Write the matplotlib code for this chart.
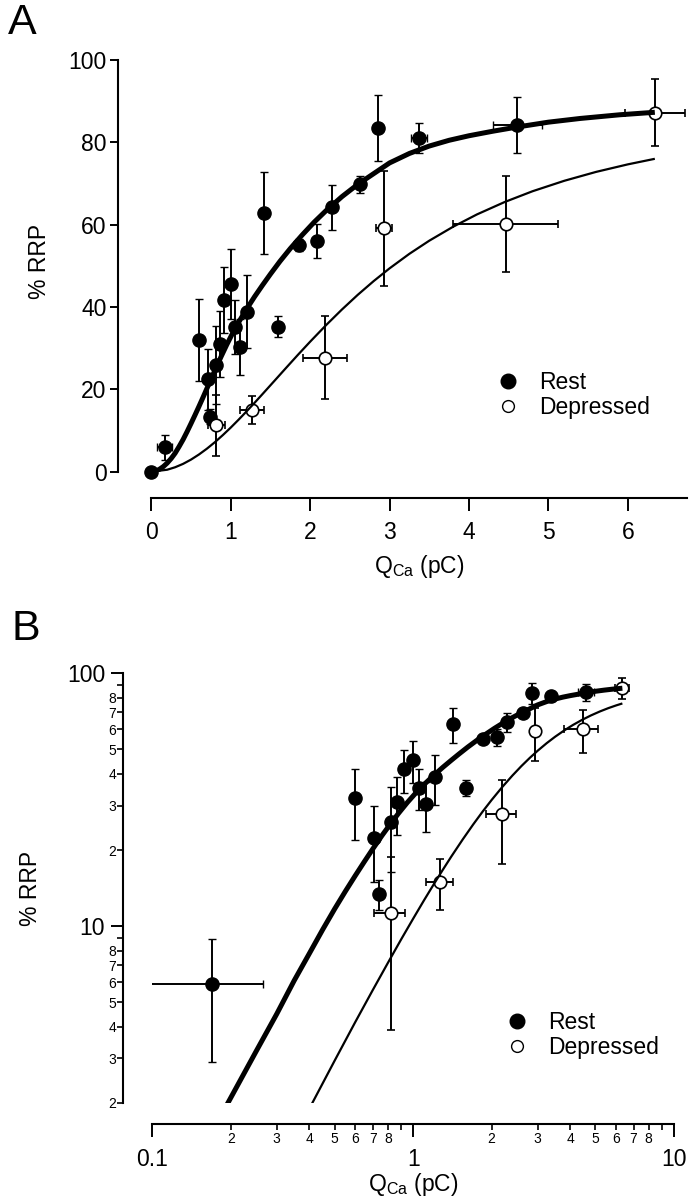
import numpy as np
import matplotlib
matplotlib.use("Agg")
import matplotlib.pyplot as plt
from matplotlib.lines import Line2D
from matplotlib.ticker import FixedLocator, FuncFormatter

plt.rcParams['font.family'] = ['Liberation Sans', 'DejaVu Sans']
plt.rcParams['mathtext.fontset'] = 'custom'
plt.rcParams['mathtext.rm'] = 'Liberation Sans'

# ---------------- data ----------------
rest_q = [0, 0.17, 0.60, 0.71, 0.74, 0.82, 0.87, 0.92, 1.00, 1.05, 1.12,
          1.21, 1.42, 1.59, 1.86, 2.09, 2.28, 2.63, 2.86, 3.37, 4.61]
rest_rrp = [0, 5.9, 32.0, 22.4, 13.4, 25.9, 31.0, 41.7, 45.5, 35.2, 30.4,
            38.9, 62.9, 35.2, 55.1, 56.0, 64.2, 69.8, 83.4, 81.0, 84.2]
rest_rrp_err = [0, 3.0, 10.0, 7.5, 1.8, 9.5, 8.0, 8.0, 8.5, 6.5, 6.8,
                8.8, 10.0, 2.5, 1.5, 4.2, 5.5, 2.0, 8.0, 3.6, 6.8]
rest_q_err = [0, 0.095, 0, 0, 0, 0, 0, 0, 0, 0, 0,
              0, 0, 0, 0, 0, 0, 0.05, 0, 0.1, 0.31]

dep_q = [0.82, 1.27, 2.19, 2.93, 4.46, 6.34]
dep_rrp = [11.3, 15.0, 27.7, 59.1, 60.2, 87.2]
dep_rrp_err = [7.4, 3.4, 10.0, 14.0, 11.7, 8.2]
dep_q_err = [0.11, 0.15, 0.28, 0.10, 0.66, 0.38]

# fitted curves
rest_fit_q = [0, 0.05, 0.1, 0.15, 0.2, 0.25, 0.3, 0.35, 0.4, 0.45, 0.5, 0.55,
              0.6, 0.65, 0.7, 0.76, 0.82, 0.88, 0.95, 1.02, 1.1, 1.2, 1.3,
              1.4, 1.5, 1.62, 1.75, 1.9, 2.05, 2.2, 2.4, 2.6, 2.8, 3.0, 3.25,
              3.5, 3.75, 4.0, 4.3, 4.6, 5.0, 5.4, 5.9, 6.34]
rest_fit_rrp = [0, 0.15, 0.56, 1.22, 2.1, 3.2, 4.5, 6.1, 7.8, 9.7, 11.7, 13.75,
                15.85, 18.0, 20.2, 22.85, 25.45, 28.0, 30.85, 33.5, 36.3, 39.5,
                42.5, 45.3, 48.0, 51.1, 54.2, 57.5, 60.6, 63.4, 66.8, 69.8,
                72.4, 75.0, 77.3, 79.1, 80.5, 81.6, 82.7, 83.7, 84.9, 85.8,
                86.7, 87.3]
dep_fit_q = [0, 0.2, 0.3, 0.4, 0.5, 0.6, 0.7, 0.8, 0.9, 1.0, 1.1, 1.2, 1.3,
             1.4, 1.55, 1.7, 1.85, 2.0, 2.2, 2.4, 2.6, 2.8, 3.0, 3.25, 3.5,
             3.8, 4.1, 4.45, 4.8, 5.2, 5.6, 6.0, 6.34]
dep_fit_rrp = [0, 0.48, 1.08, 1.9, 2.94, 4.18, 5.59, 7.16, 8.88, 10.71, 12.65,
               14.66, 16.73, 18.85, 22.06, 25.28, 28.47, 31.58, 35.59, 39.39,
               42.97, 46.3, 49.39, 52.93, 56.11, 59.5, 62.49, 65.51, 68.12,
               70.66, 72.82, 74.65, 76.0]

lin_xticks = [0, 1, 2, 3, 4, 5, 6]
lin_yticks = [0, 20, 40, 60, 80, 100]
log_xmajor = [0.1, 1, 10]
log_xmajor_labels = ['0.1', '1', '10']
log_ymajor = [10, 100]
log_ymajor_labels = ['10', '100']
minor_digits = [2, 3, 4, 5, 6, 7, 8, 9]
labelled_digits = [2, 3, 4, 5, 6, 7, 8]

PX = 0.72  # points per pixel at dpi 100
FS = 16.5

fig = plt.figure(figsize=(6.95, 11.99), dpi=100)
axA = fig.add_axes([151.3 / 695, 1 - 471.7 / 1199, 535.3 / 695, 411.7 / 1199])
axB = fig.add_axes([152.3 / 695, 1 - 1103 / 1199, 521.7 / 695, 429.7 / 1199])

ebkw = dict(ecolor='black', elinewidth=1.4, capsize=3.0, capthick=1.4, ls='none')


def draw(ax, log):
    rq = np.array(rest_q, float); rr = np.array(rest_rrp, float)
    re = np.array(rest_rrp_err, float); rqe = np.array(rest_q_err, float)
    fq = np.array(rest_fit_q, float); fr = np.array(rest_fit_rrp, float)
    dq = np.array(dep_fit_q, float); dr = np.array(dep_fit_rrp, float)
    if log:
        m = rq > 0
        rq, rr, re, rqe = rq[m], rr[m], re[m], rqe[m]
        m = fq > 0
        fq, fr = fq[m], fr[m]
        m = dq > 0
        dq, dr = dq[m], dr[m]
    clip = log
    ax.errorbar(rq, rr, yerr=re, xerr=rqe, marker='o', ms=9.5,
                mfc='black', mec='black', mew=1.0, zorder=2, clip_on=clip, **ebkw)
    ax.errorbar(dep_q, dep_rrp, yerr=dep_rrp_err, xerr=dep_q_err, marker='o',
                ms=9.0, mfc='white', mec='black', mew=1.2, zorder=2,
                clip_on=clip, **ebkw)
    ax.plot(fq, fr, color='black', lw=3.6, zorder=3, solid_capstyle='butt',
            solid_joinstyle='round')
    ax.plot(dq, dr, color='black', lw=1.6, zorder=3, solid_capstyle='butt',
            solid_joinstyle='round')
    for s in ('top', 'right'):
        ax.spines[s].set_visible(False)
    for s in ('left', 'bottom'):
        ax.spines[s].set_linewidth(1.5)


# ---------------- panel A ----------------
draw(axA, False)
axA.set_xlim(0, 6.74)
axA.set_ylim(0, 100)
axA.spines['left'].set_position(('outward', 33 * PX))
axA.spines['bottom'].set_position(('outward', 26 * PX))
axA.set_xticks(lin_xticks)
axA.set_yticks(lin_yticks)
axA.tick_params(axis='x', direction='out', length=9, width=1.4, labelsize=FS, pad=7.5)
axA.tick_params(axis='y', direction='out', length=6, width=1.4, labelsize=FS, pad=2.5)
axA.set_ylabel('% RRP', fontsize=FS)
axA.yaxis.label.set_va('center')
axA.yaxis.set_label_coords((39 - 151.3) / 535.3, 0.51)
axA.set_xlabel(r'Q$_{\mathregular{Ca}}$ (pC)', fontsize=FS)
axA.xaxis.label.set_va('center')
axA.xaxis.set_label_coords(0.5, (471.7 - 566) / 411.7)

hA = [Line2D([], [], marker='o', ls='none', ms=10.5, mfc='black', mec='black'),
      Line2D([], [], marker='o', ls='none', ms=8.5, mfc='white', mec='black', mew=1.0)]
axA.legend(hA, ['Rest', 'Depressed'], loc='center left', frameon=False,
           bbox_to_anchor=((497.6 - 151.3) / 535.3, (471.7 - 395) / 411.7),
           fontsize=FS, handlelength=0.95, handletextpad=0.85, labelspacing=0.05,
           borderpad=0, borderaxespad=0)

# ---------------- panel B ----------------
draw(axB, True)
axB.set_xscale('log')
axB.set_yscale('log')
axB.set_xlim(0.1, 10)
axB.set_ylim(2, 100)
axB.spines['left'].set_position(('outward', 29 * PX))
axB.spines['bottom'].set_position(('outward', 21 * PX))

xminor = [d * 0.1 for d in minor_digits] + [d * 1.0 for d in minor_digits]
yminor = [float(d) for d in minor_digits] + [d * 10.0 for d in minor_digits]


def digit_fmt(v, pos):
    d = int(round(v / 10 ** np.floor(np.log10(v) + 1e-9)))
    return str(d) if d in labelled_digits else ''


def major_fmt(ticks, labels):
    def f(v, pos):
        i = min(range(len(ticks)), key=lambda k: abs(np.log10(ticks[k]) - np.log10(v)))
        return labels[i]
    return FuncFormatter(f)


axB.xaxis.set_major_locator(FixedLocator(log_xmajor))
axB.xaxis.set_major_formatter(major_fmt(log_xmajor, log_xmajor_labels))
axB.xaxis.set_minor_locator(FixedLocator(xminor))
axB.xaxis.set_minor_formatter(FuncFormatter(digit_fmt))
axB.yaxis.set_major_locator(FixedLocator(log_ymajor))
axB.yaxis.set_major_formatter(major_fmt(log_ymajor, log_ymajor_labels))
axB.yaxis.set_minor_locator(FixedLocator(yminor))
axB.yaxis.set_minor_formatter(FuncFormatter(digit_fmt))

axB.tick_params(axis='x', which='major', direction='out', length=9, width=1.4, labelsize=FS, pad=8.5)
axB.tick_params(axis='x', which='minor', direction='out', length=4.5, width=1.2, labelsize=10, pad=1)
axB.tick_params(axis='y', which='major', direction='out', length=9, width=1.4, labelsize=FS, pad=4)
axB.tick_params(axis='y', which='minor', direction='out', length=4, width=1.2, labelsize=10, pad=1)

axB.set_ylabel('% RRP', fontsize=FS)
axB.yaxis.label.set_va('center')
axB.yaxis.set_label_coords((30.5 - 152.3) / 521.7, 0.5)
axB.set_xlabel(r'Q$_{\mathregular{Ca}}$ (pC)', fontsize=FS)
axB.xaxis.label.set_va('center')
axB.xaxis.set_label_coords(0.5, (1103 - 1185) / 429.7)

hB = [Line2D([], [], marker='o', ls='none', ms=10.5, mfc='black', mec='black'),
      Line2D([], [], marker='o', ls='none', ms=8.5, mfc='white', mec='black', mew=1.0)]
axB.legend(hB, ['Rest', 'Depressed'], loc='center left', frameon=False,
           bbox_to_anchor=((506.6 - 152.3) / 521.7, (1103 - 1035) / 429.7),
           fontsize=FS, handlelength=0.95, handletextpad=0.85, labelspacing=0.05,
           borderpad=0, borderaxespad=0)

fig.text(22.5 / 695, 1 - 22.5 / 1199, 'A', fontsize=31, ha='center', va='center')
fig.text(25.5 / 695, 1 - 629.5 / 1199, 'B', fontsize=31, ha='center', va='center')

fig.savefig('out.png', dpi=100, facecolor='white')
